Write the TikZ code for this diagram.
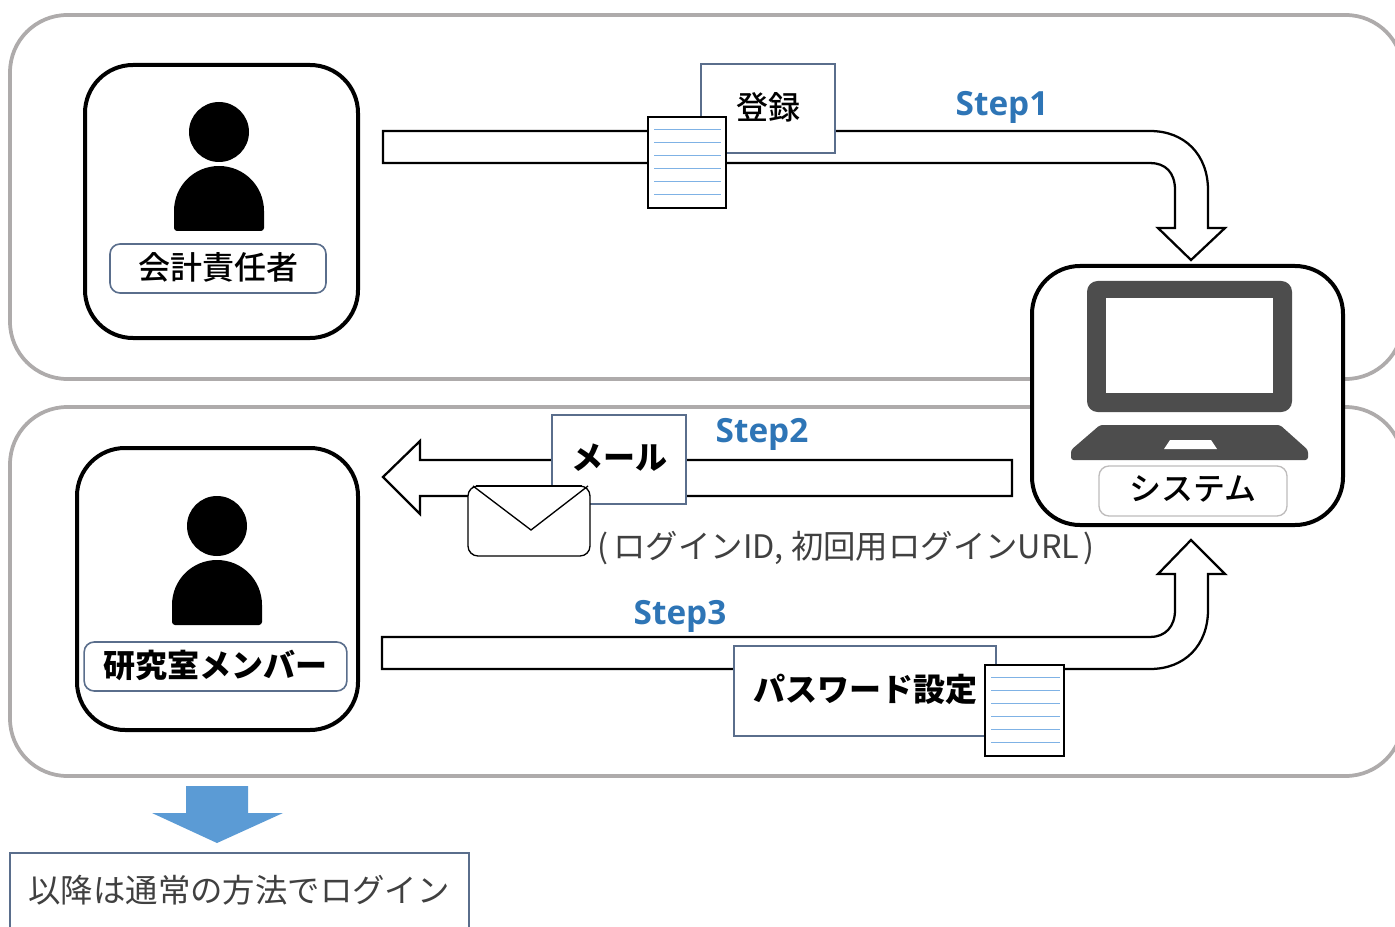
\documentclass[tikz,border=0pt]{standalone}
\usepackage{fontspec}
\setmainfont{Noto Sans CJK JP}
\newfontfamily\medcjk{Noto Sans CJK JP Medium}
\newfontfamily\latinbold{Open Sans}
\tikzset{
  px/.style={x=0.75pt,y=-0.75pt},
  frame/.style={draw=frameGray,line width=2.8pt,rounded corners=43pt,fill=white},
  holder/.style={draw=black,line width=3pt,rounded corners=36pt,fill=white},
  blockarrow/.style={draw=black,line width=1.7pt,fill=white,miter limit=10},
  slate/.style={draw=slateBlue,line width=1.2pt,fill=white},
  namebox/.style={slate,rounded corners=7.5pt},
  docsheet/.style={draw=black,line width=1pt,fill=white},
  rule/.style={draw=ruleBlue,line width=0.7pt},
  label/.style={font=\fontsize{24}{28}\selectfont\medcjk,text=black,inner sep=0pt},
  boldlabel/.style={label,font=\fontsize{24}{28}\selectfont\bfseries},
  steplabel/.style={font=\fontsize{25}{28}\selectfont\latinbold\bfseries,text=stepBlue,inner sep=0pt},
  grey/.style={font=\fontsize{24.3}{28}\selectfont,text=greyText,inner sep=0pt}
}
\definecolor{frameGray}{HTML}{AEABAB}
\definecolor{slateBlue}{HTML}{5A6E8C}
\definecolor{ruleBlue}{HTML}{7FB2E5}
\definecolor{stepBlue}{HTML}{2E75B6}
\definecolor{greyText}{HTML}{404040}
\definecolor{laptopGray}{HTML}{4D4D4D}
\definecolor{downBlue}{HTML}{5B9BD5}
\begin{document}
\begin{tikzpicture}[px]
\useasboundingbox (0,0) rectangle (1395,927);
\clip (0,0) rectangle (1395,927);
\fill[white] (0,0) rectangle (1395,927);
% group frames
\draw[frame] (10,15) rectangle (1403,379);
\draw[frame] (10,407) rectangle (1403,776);
% holders
\draw[holder] (85,65) rectangle (358,338);
\draw[holder] (77,448) rectangle (358,730);
\draw[holder] (1032,266) rectangle (1343,525);
% person 1
\fill[black] (219,132) circle (22.5pt);
\fill[black] (177,231) .. controls (175.5,231) and (174,229.5) .. (174,228) -- (174,211)
  .. controls (174,186) and (194,166) .. (219,166) .. controls (244,166) and (264,186) .. (264,211)
  -- (264,228) .. controls (264,229.5) and (262.5,231) .. (261,231) -- cycle;
\node[namebox,minimum width=162pt,minimum height=36.75pt] (accountbox) at (218,268.5) {};
\node[label] (accounttext) at (218,267) {会計責任者};
% person 2
\fill[black] (217,526) circle (22.5pt);
\fill[black] (175,625) .. controls (173.5,625) and (172,623.5) .. (172,622) -- (172,605)
  .. controls (172,580) and (192,560) .. (217,560) .. controls (242,560) and (262,580) .. (262,605)
  -- (262,622) .. controls (262,623.5) and (260.5,625) .. (259,625) -- cycle;
\node[namebox,minimum width=197pt,minimum height=36.75pt] (memberbox) at (215.5,666.5) {};
\node[boldlabel] (membertext) at (215.5,665) {研究室メンバー};
% laptop
\fill[laptopGray,rounded corners=8pt] (1087,281) rectangle (1292,412);
\fill[white] (1106,298) rectangle (1273,393);
\fill[laptopGray,rounded corners=2pt] (1100,425) -- (1280,425) -- (1308,450) -- (1308,460) -- (1071,460) -- (1071,450) -- cycle;
\fill[white] (1164,449) -- (1170,440) -- (1211,440) -- (1217,449) -- cycle;
\node[draw=frameGray!80,line width=1pt,fill=white,rounded corners=7.5pt,minimum width=141pt,minimum height=37.5pt] (systembox) at (1193,491) {};
\node[label] (systemtext) at (1193,489) {システム};
% step 1 arrow
\draw[blockarrow] (383,131) -- (1150,131) .. controls (1185,131) and (1208,155) .. (1208,190)
  -- (1208,228) -- (1225,228) -- (1191,260) -- (1158,228) -- (1175,228) -- (1175,190)
  .. controls (1175,172) and (1165,163) .. (1150,163) -- (383,163) -- cycle;
\node[slate,minimum width=100.5pt,minimum height=66.75pt] (registerbox) at (768,108.5) {};
\node[label] (registertext) at (768.5,107) {登録};
\draw[docsheet] (648,117) rectangle (726,208);
\foreach \yy in {129,142,155,168,181,194} \draw[rule] (654,\yy) -- (721,\yy);
\node[steplabel] (stepone) at (1002,107) {Step1};
% step 2 arrow
\draw[blockarrow] (1012,460) -- (420,460) -- (420,441) -- (383,477) -- (420,514) -- (420,496) -- (1012,496) -- cycle;
\node[slate,minimum width=100.5pt,minimum height=66.75pt] (mailbox) at (619,459.5) {};
\node[boldlabel] (mailtext) at (619.5,458) {メール};
\draw[draw=black,line width=1pt,fill=white,rounded corners=7.5pt] (468,486) rectangle (590,556);
\draw[black,line width=2pt] (476,486) -- (582,486);
\draw[black,line width=1pt] (473,486) -- (531,530) -- (588,486);
\node[steplabel] (steptwo) at (762,434) {Step2};
\node[grey,anchor=west] (logintext) at (597,548) {(\hspace{4pt}ログインID, 初回用ログインURL\hspace{3pt})};
% step 3 arrow
\draw[blockarrow] (382,637) -- (1150,637) .. controls (1165,637) and (1175,627) .. (1175,610)
  -- (1175,574) -- (1158,574) -- (1191,540) -- (1225,574) -- (1208,574) -- (1208,610)
  .. controls (1208,645) and (1185,669) .. (1150,669) -- (382,669) -- cycle;
\node[slate,minimum width=196.5pt,minimum height=67.5pt] (passwordbox) at (865,691) {};
\node[boldlabel] (passwordtext) at (865,689) {パスワード設定};
\draw[docsheet] (985,665) rectangle (1064,756);
\foreach \yy in {677,690,703,716,729,742} \draw[rule] (991,\yy) -- (1060,\yy);
\node[steplabel] (stepthree) at (680,616) {Step3};
% down arrow + final box
\fill[downBlue] (186,786) -- (248,786) -- (248,813) -- (283,813) -- (217,843) -- (152,813) -- (186,813) -- cycle;
\node[draw=slateBlue,line width=1.5pt,fill=white,minimum width=344pt,minimum height=66pt] (finalbox) at (239.5,897) {};
\node[grey] (finaltext) at (239,890) {以降は通常の方法でログイン};
\end{tikzpicture}
\end{document}
